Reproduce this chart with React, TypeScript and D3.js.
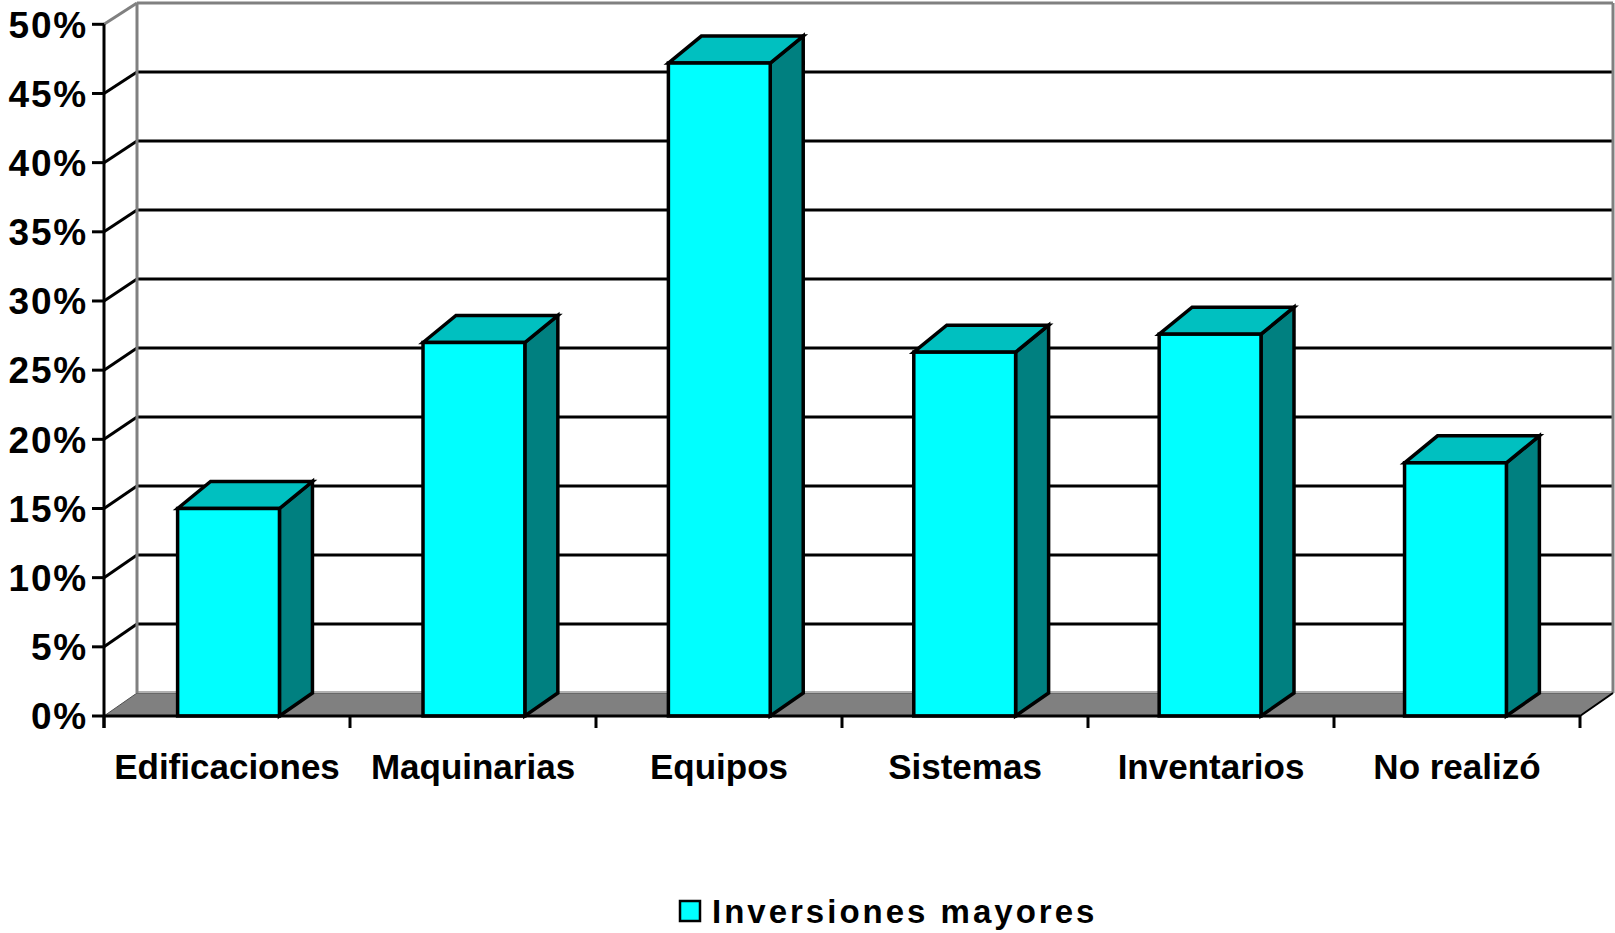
import React from "react";
import * as d3 from "d3";

const categories = ["Edificaciones", "Maquinarias", "Equipos", "Sistemas", "Inventarios", "No realizó"];
const values = [15, 27, 47.2, 26.3, 27.6, 18.3];
const yTicks = [0, 5, 10, 15, 20, 25, 30, 35, 40, 45, 50];
const yTickLabels = yTicks.map((t) => `${t}%`);
const seriesName = "Inversiones mayores";

const W = 1615;
const H = 933;
const FRONT_LEFT = 104;
const FRONT_RIGHT = 1580;
const DX = 33;
const BAR_DY = -27;
const FONT = "'Liberation Sans', Arial, Helvetica, sans-serif";

export default function App() {
  const y = d3.scaleLinear().domain([0, 50]).range([716, 24.3]);
  const yBack = d3.scaleLinear().domain([0, 50]).range([693, 3]);
  const xAxis = d3.scaleBand<string>().domain(categories).range([FRONT_LEFT, FRONT_RIGHT]).padding(0);
  const xBar = d3
    .scaleBand<string>()
    .domain(categories)
    .range([FRONT_LEFT, FRONT_RIGHT])
    .paddingInner(0.585)
    .paddingOuter(0.3);
  const bw = xBar.bandwidth();
  const backL = FRONT_LEFT + DX;
  const backR = FRONT_RIGHT + DX;
  const y0 = y(0);
  const yb0 = yBack(0);
  const line = d3.line();

  const boundaries = categories.map((c) => xAxis(c)!).concat([FRONT_RIGHT]);

  return (
    <svg
      width={W}
      height={H}
      style={{ position: "fixed", left: 0, top: 0, display: "block", background: "#fff" }}
      fontFamily={FONT}
    >
      {/* back wall */}
      <rect x={backL} y={yBack(50)} width={backR - backL} height={yb0 - yBack(50)} fill="#fff" />
      {/* floor */}
      <path
        d={line([
          [FRONT_LEFT, y0],
          [FRONT_RIGHT, y0],
          [backR, yb0],
          [backL, yb0],
        ])! + "Z"}
        fill="#808080"
        stroke="#505050"
        strokeWidth={1}
      />
      <line x1={backL} x2={backR} y1={yb0 - 1} y2={yb0 - 1} stroke="#b0b0b0" strokeWidth={2} />
      {/* gridlines */}
      {yTicks.slice(1, -1).map((t) => (
        <g key={t}>
          <line x1={backL} x2={backR} y1={yBack(t)} y2={yBack(t)} stroke="#000" strokeWidth={3} />
          <line x1={FRONT_LEFT} x2={backL} y1={y(t)} y2={yBack(t)} stroke="#000" strokeWidth={3} />
        </g>
      ))}
      {/* wall borders */}
      <line x1={FRONT_LEFT} x2={backL} y1={y(50)} y2={yBack(50)} stroke="#808080" strokeWidth={3} />
      <line x1={backL} x2={backR} y1={yBack(50)} y2={yBack(50)} stroke="#808080" strokeWidth={3} />
      <line x1={backL} x2={backL} y1={yBack(50)} y2={yb0} stroke="#808080" strokeWidth={3} />
      <line x1={backR} x2={backR} y1={yBack(50)} y2={yb0} stroke="#808080" strokeWidth={3} />
      <line x1={FRONT_RIGHT} x2={backR} y1={y0} y2={yb0} stroke="#000" strokeWidth={2} />

      {/* bars */}
      {categories.map((c, i) => {
        const x0 = xBar(c)!;
        const x1 = x0 + bw;
        const yt = y(values[i]);
        return (
          <g key={c} stroke="#000" strokeWidth={3.5} strokeLinejoin="miter">
            <path
              d={line([
                [x1, yt],
                [x1 + DX, yt + BAR_DY],
                [x1 + DX, yb0],
                [x1, y0],
              ])! + "Z"}
              fill="#008080"
            />
            <path
              d={line([
                [x0, yt],
                [x0 + DX, yt + BAR_DY],
                [x1 + DX, yt + BAR_DY],
                [x1, yt],
              ])! + "Z"}
              fill="#00C0C0"
            />
            <rect x={x0} y={yt} width={bw} height={y0 - yt} fill="#00FFFF" />
          </g>
        );
      })}

      {/* y axis */}
      <line x1={FRONT_LEFT} x2={FRONT_LEFT} y1={y(50)} y2={y0 + 12} stroke="#000" strokeWidth={3} />
      {yTicks.map((t, i) => (
        <g key={t}>
          <line x1={FRONT_LEFT - 12} x2={FRONT_LEFT} y1={y(t)} y2={y(t)} stroke="#000" strokeWidth={3} />
          <text
            x={88}
            y={y(t)}
            dy="0.36em"
            textAnchor="end"
            fontSize={37}
            fontWeight="bold"
            letterSpacing={1.8}
            fill="#000"
          >
            {yTickLabels[i]}
          </text>
        </g>
      ))}

      {/* x axis */}
      <line x1={FRONT_LEFT} x2={FRONT_RIGHT} y1={y0} y2={y0} stroke="#000" strokeWidth={3} />
      {boundaries.map((bx, i) => (
        <line key={i} x1={bx} x2={bx} y1={y0} y2={y0 + 12} stroke="#000" strokeWidth={3} />
      ))}
      {categories.map((c) => (
        <text
          key={c}
          x={xAxis(c)! + xAxis.bandwidth() / 2}
          y={779}
          textAnchor="middle"
          fontSize={35}
          fontWeight="bold"
          fill="#000"
        >
          {c}
        </text>
      ))}

      {/* legend */}
      <rect x={680} y={901} width={20} height={20} fill="#00FFFF" stroke="#000" strokeWidth={2.5} />
      <text x={712} y={923} fontSize={33} fontWeight="bold" letterSpacing={3} fill="#000">
        {seriesName}
      </text>
    </svg>
  );
}
